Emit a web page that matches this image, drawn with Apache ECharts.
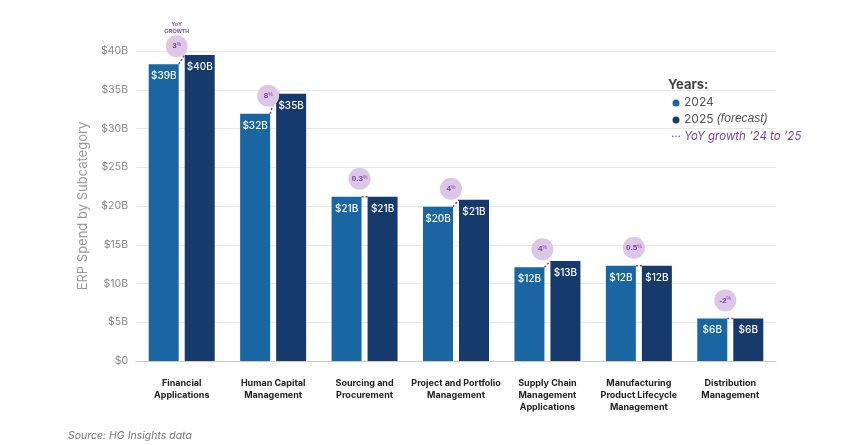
<!DOCTYPE html>
<html><head><meta charset="utf-8">
<script src="https://cdn.jsdelivr.net/npm/echarts@6/dist/echarts.min.js"></script>
<style>html,body{margin:0;background:#fff}#c{width:863px;height:445px}</style>
</head><body><div id="c"></div>
<script>
var categories = ['Financial\nApplications', 'Human Capital\nManagement', 'Sourcing and\nProcurement', 'Project and Portfolio\nManagement', 'Supply Chain\nManagement\nApplications', 'Manufacturing\nProduct Lifecycle\nManagement', 'Distribution\nManagement'];
var spend2024 = [38.3, 31.9, 21.2, 19.9, 12.1, 12.3, 5.5];
var spend2025 = [39.5, 34.5, 21.2, 20.8, 12.9, 12.3, 5.5];
var labels2024 = ['$39B', '$32B', '$21B', '$20B', '$12B', '$12B', '$6B'];
var labels2025 = ['$40B', '$35B', '$21B', '$21B', '$13B', '$12B', '$6B'];
var growth = ['3', '8', '0.3', '4', '4', '0.5', '-2'];

var c24 = '#1a66a3', c25 = '#163a6c', purple = '#7a3fa8';
var chart = echarts.init(document.getElementById('c'));

var growthData = categories.map(function (c, i) { return [i, spend2024[i], spend2025[i], i]; });

chart.setOption({
  animation: false,
  textStyle: { fontFamily: 'Inter' },
  grid: { left: 136, right: 87, top: 51, bottom: 84 },
  xAxis: {
    type: 'category', data: categories,
    axisLine: { lineStyle: { color: '#ccc' } }, axisTick: { show: false },
    axisLabel: { interval: 0, color: '#222', fontSize: 9, fontWeight: 'bold', lineHeight: 12, margin: 16 }
  },
  yAxis: {
    type: 'value', min: 0, max: 40, interval: 5,
    name: 'ERP Spend by Subcategory', nameLocation: 'middle', nameGap: 40,
    nameTextStyle: { color: '#999', fontSize: 13 },
    axisLabel: { color: '#888', fontSize: 10.5, formatter: function (v) { return '$' + v + (v ? 'B' : ''); } },
    splitLine: { lineStyle: { color: '#e8e8e8' } }
  },
  series: [
    { type: 'bar', data: spend2024, barWidth: 30, barGap: '20%', itemStyle: { color: c24 },
      label: { show: true, position: 'insideTop', color: '#fff', fontSize: 10, fontWeight: 500, offset: [0, 2],
        formatter: function (p) { return labels2024[p.dataIndex]; } } },
    { type: 'bar', data: spend2025, barWidth: 30, itemStyle: { color: c25 },
      label: { show: true, position: 'insideTop', color: '#fff', fontSize: 10, fontWeight: 500, offset: [0, 2],
        formatter: function (p) { return labels2025[p.dataIndex]; } } },
    { type: 'custom', data: growthData, z: 10,
      renderItem: function (params, api) {
        var i = api.value(3);
        var p24 = api.coord([api.value(0), api.value(1)]);
        var p25 = api.coord([api.value(0), api.value(2)]);
        var cx = p24[0] - 5, cy = p24[1] - 18;
        var kids = [
          { type: 'line', shape: { x1: p24[0] - 3, y1: p24[1], x2: p25[0] + 3, y2: p25[1] },
            style: { stroke: purple, lineWidth: 1.5, lineDash: [2, 2] } },
          { type: 'circle', shape: { cx: cx, cy: cy, r: 11 }, style: { fill: '#dcc8e6' } },
          { type: 'text', x: cx, y: cy, style: { text: growth[i] + '{s|%}', rich: { s: { fontSize: 5, verticalAlign: 'top', fill: purple } },
            fill: purple, fontSize: 8, fontWeight: 'bold', align: 'center', verticalAlign: 'middle' } }
        ];
        if (i === 0) kids.push({ type: 'text', x: cx, y: cy - 18, style: { text: 'YoY\nGROWTH', fill: purple, fontSize: 5.5, fontWeight: 'bold', align: 'center', verticalAlign: 'middle', lineHeight: 7 } });
        return { type: 'group', children: kids };
      } }
  ],
  graphic: [
    { type: 'text', left: 668, top: 79, style: { text: 'Years:', fill: '#444', fontSize: 13, fontWeight: 'bold', fontFamily: 'Inter' } },
    { type: 'circle', shape: { cx: 676, cy: 103, r: 3.5 }, style: { fill: c24 } },
    { type: 'text', left: 684, top: 96, style: { text: '2024', fill: '#555', fontSize: 12, fontFamily: 'Inter' } },
    { type: 'circle', shape: { cx: 676, cy: 120, r: 3.5 }, style: { fill: c25 } },
    { type: 'text', left: 684, top: 113, style: { text: '2025 {i|(forecast)}', fill: '#555', fontSize: 12, fontFamily: 'Inter', rich: { i: { fontStyle: 'italic', fontSize: 12, fill: '#555' } } } },
    { type: 'text', left: 671, top: 131, style: { text: '··· YoY growth \u201924 to \u201925', fill: purple, fontSize: 11.5, fontStyle: 'italic', fontFamily: 'Inter' } },
    { type: 'text', left: 68, top: 430, style: { text: 'Source: HG Insights data', fill: '#777', fontSize: 10.5, fontStyle: 'italic', fontFamily: 'Inter' } }
  ]
});
</script></body></html>
